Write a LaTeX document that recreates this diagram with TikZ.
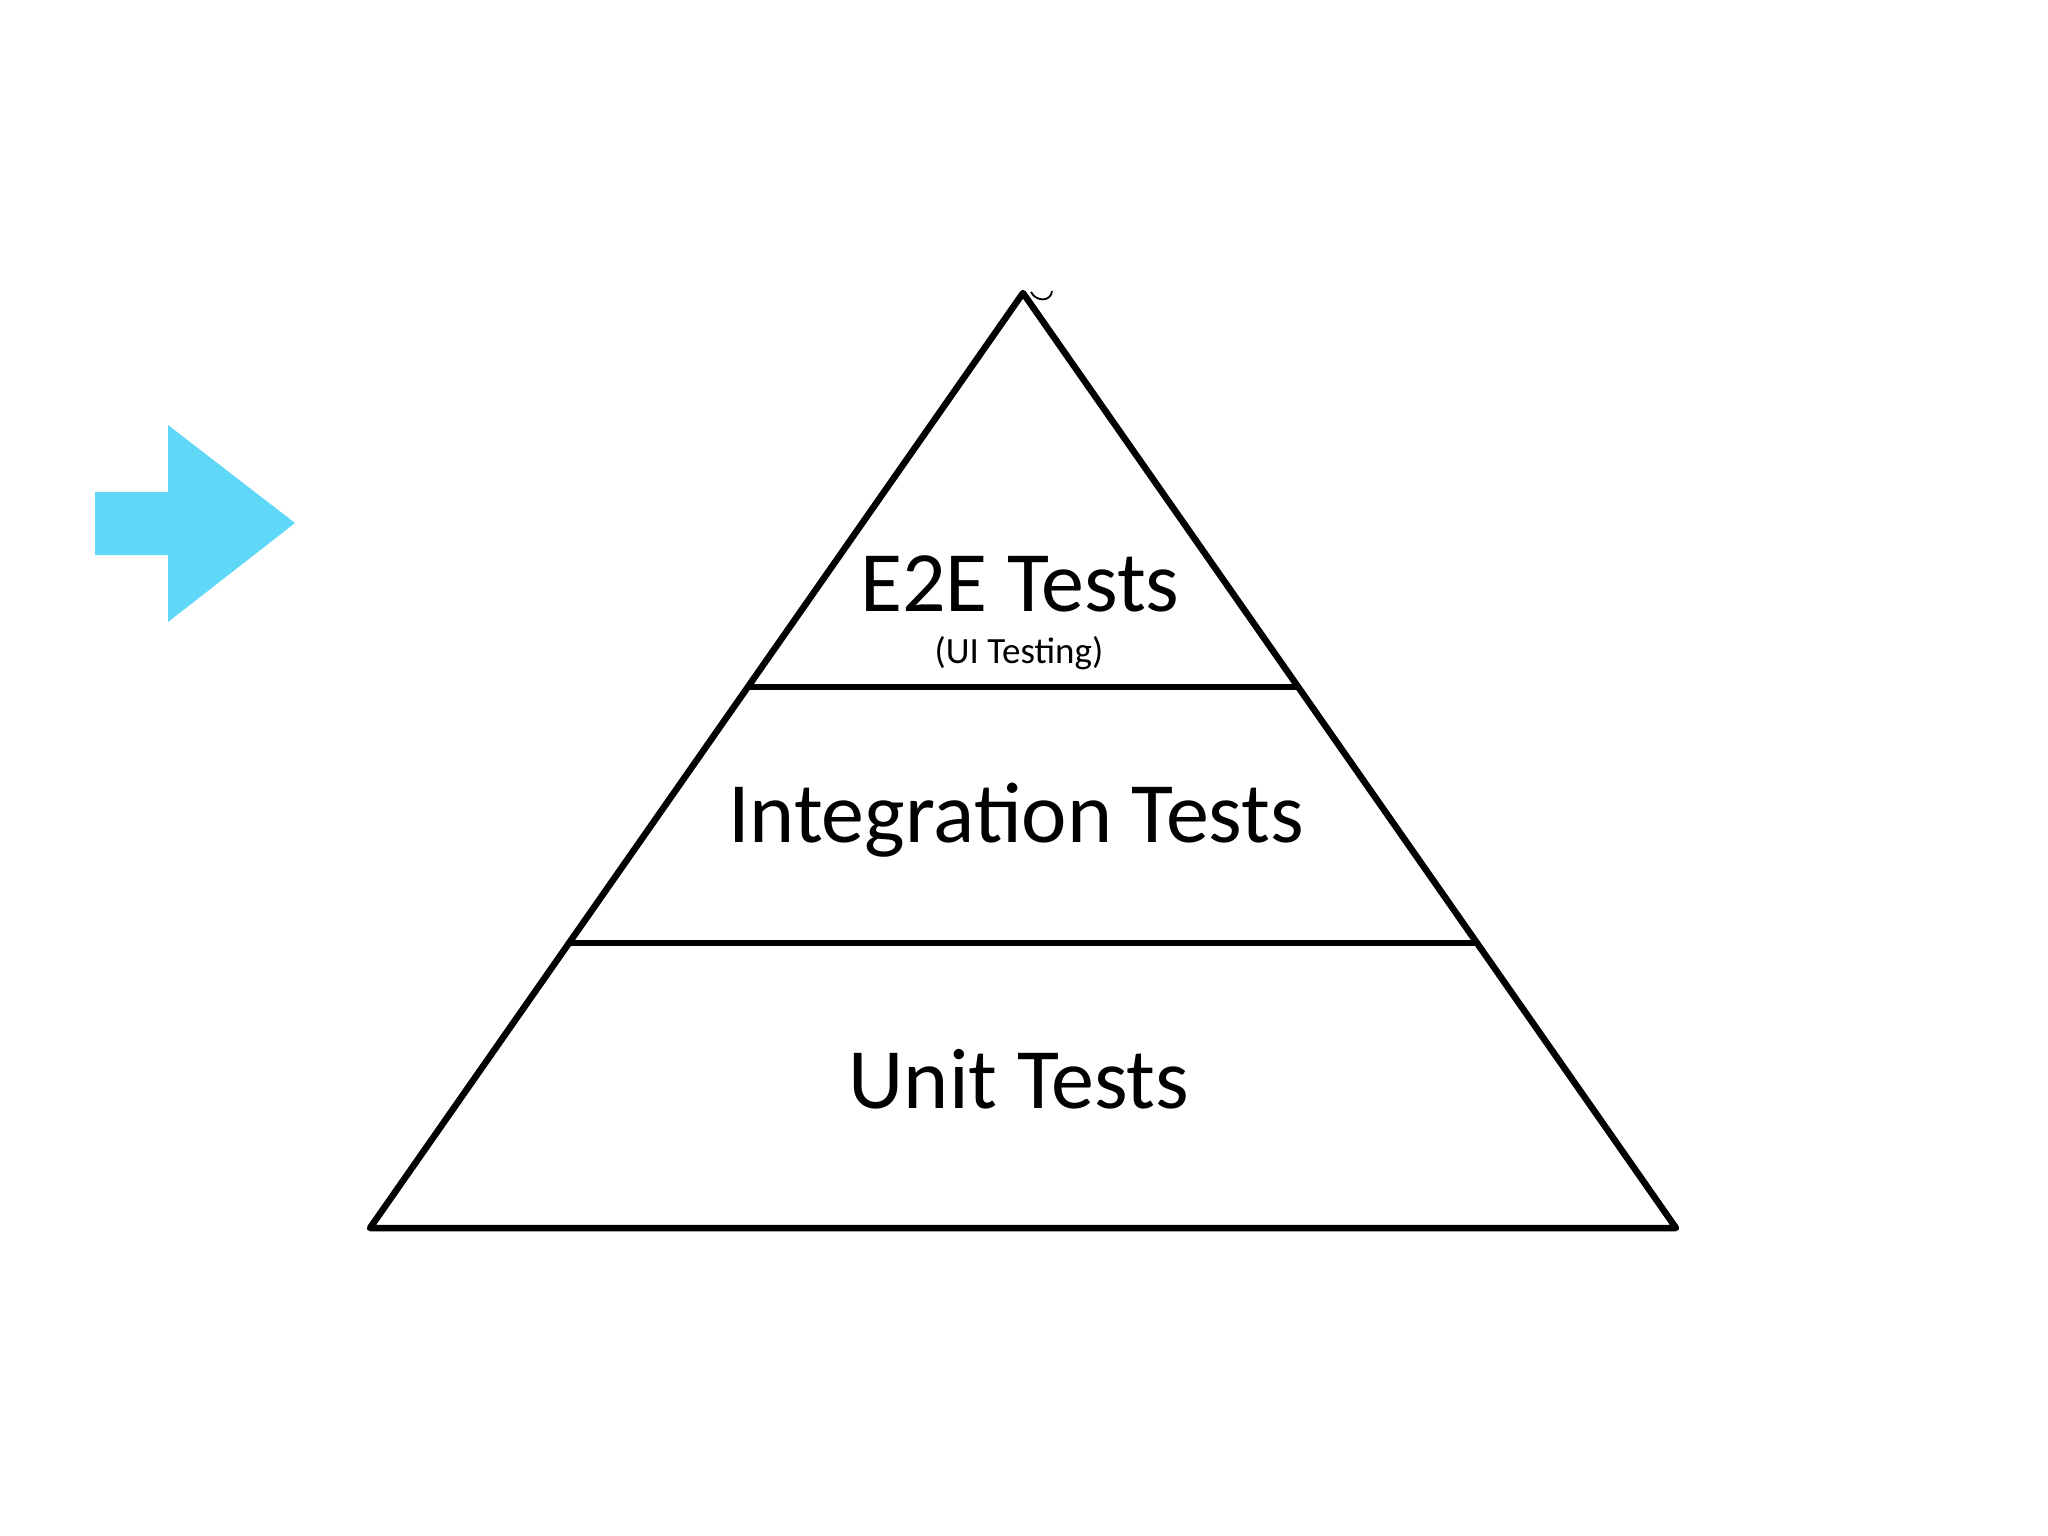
\documentclass[tikz,border=0pt]{standalone}
\usepackage{fontspec}
\setmainfont{Carlito}
\usetikzlibrary{calc}
\definecolor{arrowcyan}{RGB}{95,216,248}
\tikzset{
  edge/.style={line width=6.5pt, line join=round, line cap=round, black},
  bigtxt/.style={font=\fontsize{86}{100}\selectfont, anchor=base, inner sep=0pt},
  smalltxt/.style={font=\fontsize{37}{44}\selectfont, anchor=base, inner sep=0pt}
}
\begin{document}
\begin{tikzpicture}[x=1pt, y=-1pt]
\useasboundingbox (0,0) rectangle (2048,1536);
\fill[white] (0,0) rectangle (2048,1536);
% arrow
\fill[arrowcyan] (95,492) -- (168,492) -- (168,425) -- (295,523) -- (168,622) -- (168,555) -- (95,555) -- cycle;
% pyramid
\coordinate (apex) at (1023,293);
\coordinate (bl) at (370,1228);
\coordinate (br) at (1676,1228);
\coordinate (l1) at ($(apex)!0.4214!(bl)$);
\coordinate (r1) at ($(apex)!0.4214!(br)$);
\coordinate (l2) at ($(apex)!0.6952!(bl)$);
\coordinate (r2) at ($(apex)!0.6952!(br)$);
\draw[edge] (apex) -- (bl) -- (br) -- cycle;
\draw[edge] (l1) -- (r1);
\draw[edge] (l2) -- (r2);
\draw[line width=1.8pt] (1031,292) .. controls (1036,302) and (1051,302) .. (1052,291);
% labels
\node[bigtxt] (e2e) at (1020,611) {E2E Tests};
\node[smalltxt] (ui) at (1019,663) {(UI Testing)};
\node[bigtxt] (integ) at (1016,842) {Integration Tests};
\node[bigtxt] (unit) at (1019,1108) {Unit Tests};
\end{tikzpicture}
\end{document}
